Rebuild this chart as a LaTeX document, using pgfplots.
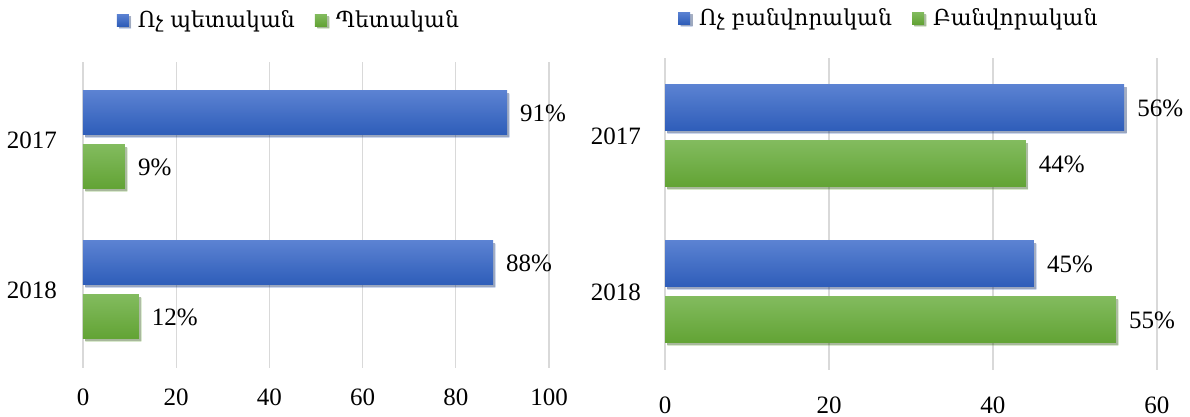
\documentclass[border=0pt]{standalone}
\usepackage{fontspec}
\setmainfont{Liberation Serif}
\newfontfamily\armfont{DejaVu Serif}
\usepackage{pgfplots}
\pgfplotsset{compat=1.18}
\usetikzlibrary{shadows}
\definecolor{blueT}{HTML}{5B82D2}
\definecolor{blueB}{HTML}{2E5DB9}
\definecolor{blueM}{HTML}{4472C4}
\definecolor{greenT}{HTML}{82BB5E}
\definecolor{greenB}{HTML}{62A334}
\definecolor{greenM}{HTML}{70AD47}
\definecolor{gridc}{HTML}{D9D9D9}
\pgfplotsset{
  mybar/.style={
    xbar, scale only axis,
    axis line style={draw=none},
    major tick length=0pt,
    xmajorgrids, grid style={gridc, line width=0.6pt},
    ytick={0,1}, yticklabels={2018,2017},
    tick label style={font=\fontsize{12.5}{14}\selectfont},
    /pgf/number format/assume math mode=true,
    point meta=x,
    nodes near coords={\pgfmathprintnumber\pgfplotspointmeta\%},
    every node near coord/.append style={font=\fontsize{12.5}{14}\selectfont, black, xshift=3pt},
    legend columns=2,
    legend style={draw=none, fill=none, font=\armfont\fontsize{11}{13}\selectfont,
      /tikz/every odd column/.append style={column sep=2.5pt},
      /tikz/every even column/.append style={column sep=8pt}},
    clip=false,
  },
  bl/.style={draw=none, top color=blueT, bottom color=blueB,
    drop shadow={shadow xshift=1.2pt, shadow yshift=-1.2pt, fill=black, opacity=0.25},
    legend image code/.code={\fill[blueM] (0pt,-3pt) rectangle (6pt,3pt);}},
  gr/.style={draw=none, top color=greenT, bottom color=greenB,
    drop shadow={shadow xshift=1.2pt, shadow yshift=-1.2pt, fill=black, opacity=0.25},
    legend image code/.code={\fill[greenM] (0pt,-3pt) rectangle (6pt,3pt);}},
}
\begin{document}
\begin{tikzpicture}
\path[use as bounding box] (0,0) rectangle (595pt,208.5pt);
% Left chart
\begin{axis}[mybar,
  at={(41.5pt,24.5pt)}, anchor=south west,
  width=233pt, height=153pt,
  xmin=0, xmax=100, xtick={0,20,40,60,80,100},
  ymin=-0.52, ymax=1.52,
  bar width=22pt,
  xticklabel style={yshift=-7pt},
  yticklabel style={xshift=-9.5pt},
  legend style={at={(0.444,1.137)}, anchor=center},
]
\addplot[bl, bar shift=13.5pt] coordinates {(91,1)};
\addlegendentry{Ոչ պետական}
\addplot[gr, bar shift=-13.5pt] coordinates {(9,1)};
\addlegendentry{Պետական}
\addplot[bl, bar shift=13.5pt, forget plot] coordinates {(88,0)};
\addplot[gr, bar shift=-13.5pt, forget plot] coordinates {(12,0)};
\end{axis}
% Right chart
\begin{axis}[mybar,
  at={(332.5pt,23.5pt)}, anchor=south west,
  width=246pt, height=156pt,
  xmin=0, xmax=60, xtick={0,20,40,60},
  ymin=-0.5, ymax=1.5,
  bar width=23pt,
  xticklabel style={yshift=-10pt},
  yticklabel style={xshift=-8.5pt},
  legend style={at={(0.457,1.128)}, anchor=center},
]
\addplot[bl, bar shift=14pt] coordinates {(56,1)};
\addlegendentry{Ոչ բանվորական}
\addplot[gr, bar shift=-14pt] coordinates {(44,1)};
\addlegendentry{Բանվորական}
\addplot[bl, bar shift=14pt, forget plot] coordinates {(45,0)};
\addplot[gr, bar shift=-14pt, forget plot] coordinates {(55,0)};
\end{axis}
\end{tikzpicture}
\end{document}
